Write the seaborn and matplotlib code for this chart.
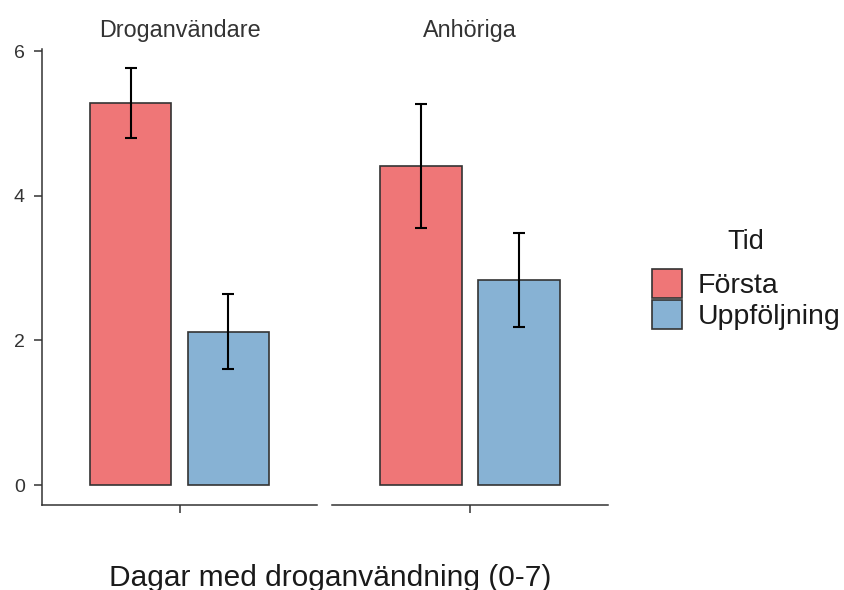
import numpy as np
import pandas as pd
import matplotlib
matplotlib.use("Agg")
import matplotlib.pyplot as plt
import seaborn as sns

# Values
grupper = ["Droganvändare", "Anhöriga"]
tider = ["Första", "Uppföljning"]
medel_drog = [5.28, 2.12]
medel_anh = [4.42, 2.84]
lagre_drog = [4.80, 1.60]
lagre_anh = [3.56, 2.19]
ovre_drog = [5.77, 2.64]
ovre_anh = [5.27, 3.49]
y_ticks = [0, 2, 4, 6]

df = pd.DataFrame({
    "Grupp": np.repeat(grupper, 2),
    "Tid": tider * 2,
    "Medel": medel_drog + medel_anh,
    "Lagre": lagre_drog + lagre_anh,
    "Ovre": ovre_drog + ovre_anh,
})

sns.set_style("white")
plt.rcParams["font.family"] = ["Liberation Sans", "DejaVu Sans"]

farger = {"Första": "#EF7677", "Uppföljning": "#87B2D4"}
kant = "#333333"

fig = plt.figure(figsize=(8.44, 5.90), dpi=100)
ax1 = fig.add_axes([0.0498, 0.144, 0.3258, 0.7725])
ax2 = fig.add_axes([0.3934, 0.144, 0.3270, 0.7725], sharey=ax1)

handles = []
for ax, grupp in zip([ax1, ax2], grupper):
    sub = df[df["Grupp"] == grupp]
    sns.barplot(data=sub, x="Grupp", y="Medel", hue="Tid", hue_order=tider,
                palette=farger, saturation=1, width=0.851, gap=0.168,
                edgecolor=kant, linewidth=1.2, errorbar=None, legend=False, ax=ax)
    bar_conts = list(ax.containers)
    if not handles:
        handles = [c.patches[0] for c in bar_conts]
    for cont, tid in zip(bar_conts, tider):
        rad = sub[sub["Tid"] == tid].iloc[0]
        bar = cont.patches[0]
        xc = bar.get_x() + bar.get_width() / 2
        ax.errorbar(xc, rad["Medel"],
                    yerr=[[rad["Medel"] - rad["Lagre"]], [rad["Ovre"] - rad["Medel"]]],
                    fmt="none", ecolor="black", elinewidth=1.5, capsize=4.3,
                    capthick=1.5, zorder=5)
    ax.set_xlim(-0.6, 0.6)
    ax.set_xticks([0])
    ax.set_xticklabels([""])
    ax.set_xlabel("")
    ax.set_ylabel("")
    ax.set_title(grupp, fontsize=16.8, color="#333333", pad=9)
    for s in ["top", "right"]:
        ax.spines[s].set_visible(False)
    ax.spines["bottom"].set_color(kant)
    ax.spines["bottom"].set_linewidth(1.1)
    ax.tick_params(axis="x", bottom=True, length=5.5, width=1.1, color=kant,
                   direction="out")

ax1.set_ylim(-0.277, 6.03)
ax1.set_yticks(y_ticks)
ax1.tick_params(axis="y", length=5.5, width=1.1, color=kant, labelsize=14,
                labelcolor="#333333", pad=7, left=True)
ax1.spines["left"].set_color(kant)
ax1.spines["left"].set_linewidth(1.1)
ax2.spines["left"].set_visible(False)
ax2.tick_params(axis="y", left=False, labelleft=False)

fig.text(0.391, 0.021, "Dagar med droganvändning (0-7)", ha="center", va="center",
         fontsize=21.5, color="#1a1a1a")

leg = fig.legend(handles, tider, title="Tid", loc="upper left",
                 bbox_to_anchor=(652 / 844, 1 - 229 / 590), frameon=False,
                 fontsize=20.5, title_fontsize=19.5, handlelength=1.05,
                 handleheight=1.2, labelspacing=0.02, handletextpad=0.55,
                 borderpad=0, borderaxespad=0)
leg._legend_box.sep = 10
for t in leg.get_texts():
    t.set_color("#1a1a1a")
leg.get_title().set_color("#1a1a1a")

fig.savefig("out.png", dpi=100)
